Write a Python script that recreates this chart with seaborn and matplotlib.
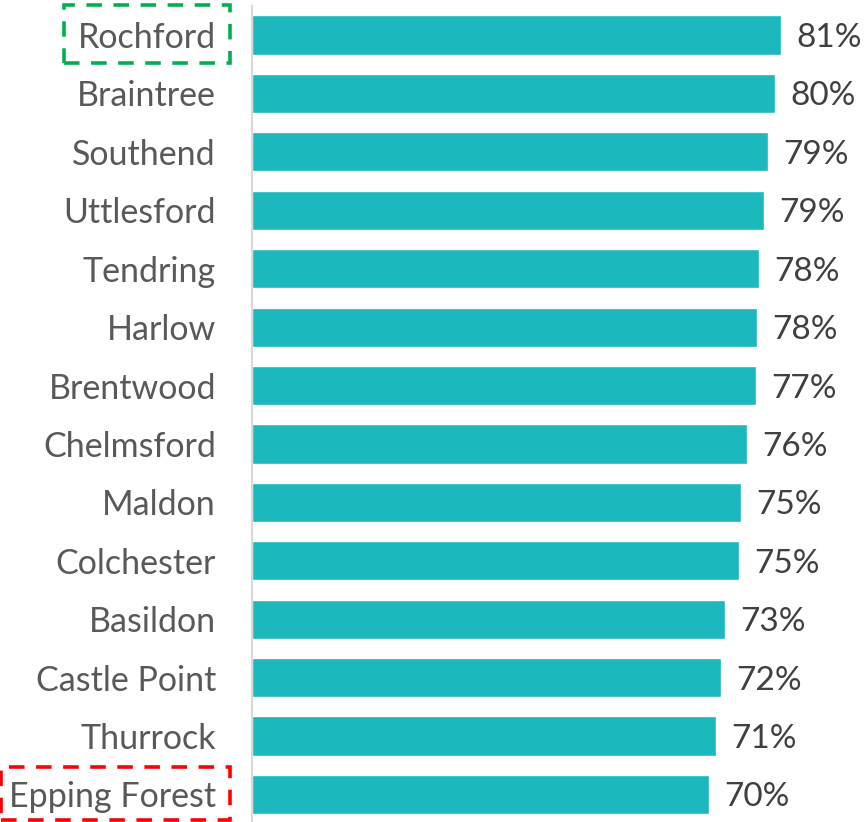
import matplotlib
matplotlib.use("Agg")
import matplotlib.pyplot as plt
import seaborn as sns
import pandas as pd
from matplotlib.patches import Rectangle

districts = ["Rochford", "Braintree", "Southend", "Uttlesford", "Tendring", "Harlow",
             "Brentwood", "Chelmsford", "Maldon", "Colchester", "Basildon",
             "Castle Point", "Thurrock", "Epping Forest"]
values = [81.3, 80.3, 79.3, 78.6, 77.9, 77.6, 77.4, 76.1, 75.1, 74.8, 72.7, 72.0, 71.2, 70.2]

df = pd.DataFrame({"district": districts, "value": values})

sns.set_theme(style="white")
plt.rcParams["font.family"] = ["Lato", "DejaVu Sans"]

W, H = 864, 822
fig = plt.figure(figsize=(W / 100, H / 100), dpi=100)
ax = fig.add_axes([252 / W, -1.7 / H, (W - 252) / W, (H - 5.8 + 1.7) / H])

sns.barplot(data=df, x="value", y="district", orient="h", color="#1BB9BD",
            saturation=1, width=0.67, ax=ax)

ax.set_xlim(0, 94.0)
ax.set_ylim(13.5, -0.5)
ax.set_xlabel("")
ax.set_ylabel("")
ax.set_xticks([])
for s in ["top", "right", "bottom"]:
    ax.spines[s].set_visible(False)
ax.spines["left"].set_color("#D9D9D9")
ax.spines["left"].set_linewidth(1.5)
ax.tick_params(axis="y", length=0, pad=26, labelsize=24.5, labelcolor="#595959")
for t in ax.get_yticklabels():
    t.set_va("center_baseline")

labels = ax.bar_label(ax.containers[0], labels=[f"{v:.0f}%" for v in values], padding=11,
                      fontsize=24, color="#404040")
for t in labels:
    t.set_va("center_baseline")

# dashed highlight boxes (pixel coords -> figure fraction)
def box(x0, y0, x1, y1, color):
    r = Rectangle((x0 / W, 1 - y1 / H), (x1 - x0) / W, (y1 - y0) / H,
                  transform=fig.transFigure, fill=False, edgecolor=color,
                  linewidth=2.6, linestyle=(0, (4.3, 3.2)), clip_on=False)
    fig.add_artist(r)

box(64, 5, 230, 63, "#00B050")
box(1, 767, 230, 820, "#FF0000")

fig.savefig("out.png", dpi=100)
